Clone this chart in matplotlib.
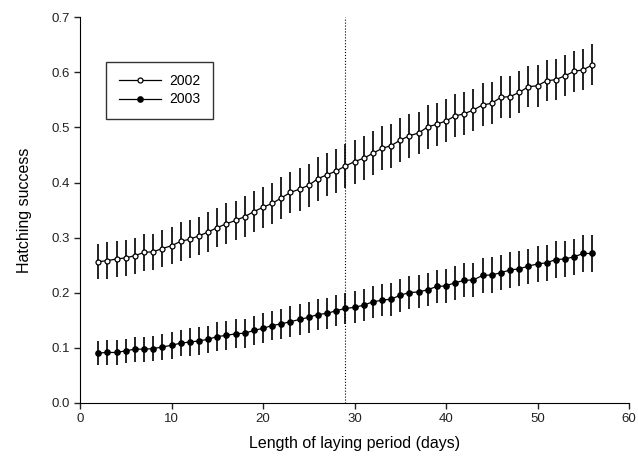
import matplotlib.pyplot as plt

plt.rcParams['font.family'] = ['Liberation Sans', 'DejaVu Sans']

# laying period length (days)
days = list(range(2, 57))

# 2002 hatching success
y2002 = [0.256, 0.258, 0.261, 0.263, 0.267, 0.273, 0.274, 0.280, 0.285, 0.293,
         0.297, 0.303, 0.310, 0.318, 0.325, 0.331, 0.338, 0.347, 0.355, 0.362,
         0.372, 0.382, 0.388, 0.395, 0.407, 0.414, 0.421, 0.430, 0.438, 0.444,
         0.453, 0.462, 0.467, 0.477, 0.485, 0.490, 0.501, 0.506, 0.512, 0.521,
         0.525, 0.532, 0.541, 0.544, 0.555, 0.556, 0.564, 0.574, 0.576, 0.585,
         0.587, 0.594, 0.602, 0.605, 0.614]
err2002 = [0.032, 0.033, 0.032, 0.033, 0.033, 0.034, 0.033, 0.034, 0.034, 0.035,
           0.035, 0.035, 0.036, 0.036, 0.037, 0.036, 0.037, 0.037, 0.037, 0.038,
           0.038, 0.038, 0.039, 0.039, 0.040, 0.039, 0.040, 0.040, 0.040, 0.040,
           0.040, 0.040, 0.040, 0.040, 0.040, 0.039, 0.040, 0.039, 0.039, 0.039,
           0.039, 0.038, 0.039, 0.038, 0.038, 0.038, 0.038, 0.037, 0.038, 0.037,
           0.037, 0.037, 0.037, 0.037, 0.037]

# 2003 hatching success
y2003 = [0.090, 0.091, 0.091, 0.094, 0.097, 0.097, 0.098, 0.101, 0.104, 0.108,
         0.110, 0.112, 0.115, 0.120, 0.122, 0.125, 0.126, 0.131, 0.135, 0.140,
         0.143, 0.147, 0.151, 0.155, 0.160, 0.162, 0.167, 0.171, 0.173, 0.177,
         0.183, 0.186, 0.188, 0.195, 0.200, 0.201, 0.205, 0.211, 0.212, 0.218,
         0.222, 0.223, 0.231, 0.232, 0.236, 0.241, 0.243, 0.248, 0.252, 0.254,
         0.260, 0.261, 0.265, 0.271, 0.271]
err2003 = [0.021, 0.022, 0.022, 0.022, 0.023, 0.023, 0.023, 0.024, 0.024, 0.024,
           0.025, 0.025, 0.025, 0.026, 0.026, 0.026, 0.026, 0.027, 0.027, 0.027,
           0.027, 0.028, 0.028, 0.028, 0.028, 0.028, 0.028, 0.028, 0.029, 0.029,
           0.029, 0.029, 0.030, 0.030, 0.030, 0.030, 0.030, 0.030, 0.031, 0.031,
           0.031, 0.031, 0.031, 0.032, 0.032, 0.032, 0.032, 0.032, 0.033, 0.033,
           0.033, 0.033, 0.033, 0.033, 0.033]

cutoff_day = 29

fig = plt.figure(figsize=(6.38, 4.74), dpi=100)
ax = fig.add_axes([0.1254, 0.1508, 0.8605, 0.8123])

c1 = ax.errorbar(days, y2002, yerr=err2002, fmt='-o', color='black', lw=0.9,
                 ms=3.6, mfc='white', mec='black', mew=0.9,
                 ecolor='#222222', elinewidth=1.4, capsize=0)
c2 = ax.errorbar(days, y2003, yerr=err2003, fmt='-o', color='black', lw=0.9,
                 ms=3.8, mfc='black', mec='black',
                 ecolor='#222222', elinewidth=1.4, capsize=0)

ax.axvline(cutoff_day, color='black', lw=0.8, ls=':')

ax.set_xlim(0, 60)
ax.set_ylim(0, 0.7)
ax.set_xticks(range(0, 61, 10))
ax.set_yticks([i / 10 for i in range(8)])
ax.set_yticklabels(['%.1f' % (i / 10) for i in range(8)])
ax.spines['top'].set_visible(False)
ax.spines['right'].set_visible(False)
ax.tick_params(direction='out', length=4, width=1, labelsize=9.5, colors='#222222')

ax.set_xlabel('Length of laying period (days)', fontsize=11.5, labelpad=8)
ax.set_ylabel('Hatching success', fontsize=11.5, labelpad=14)

leg = ax.legend([c1.lines[0], c2.lines[0]], ['2002', '2003'],
                loc='upper left', bbox_to_anchor=(0.048, 0.885), frameon=True,
                fancybox=False, edgecolor='black', fontsize=10,
                handlelength=3.0, handletextpad=0.6, borderpad=0.9,
                labelspacing=0.3, borderaxespad=0)
leg.get_frame().set_linewidth(1.0)

fig.savefig('out.png', dpi=100)
